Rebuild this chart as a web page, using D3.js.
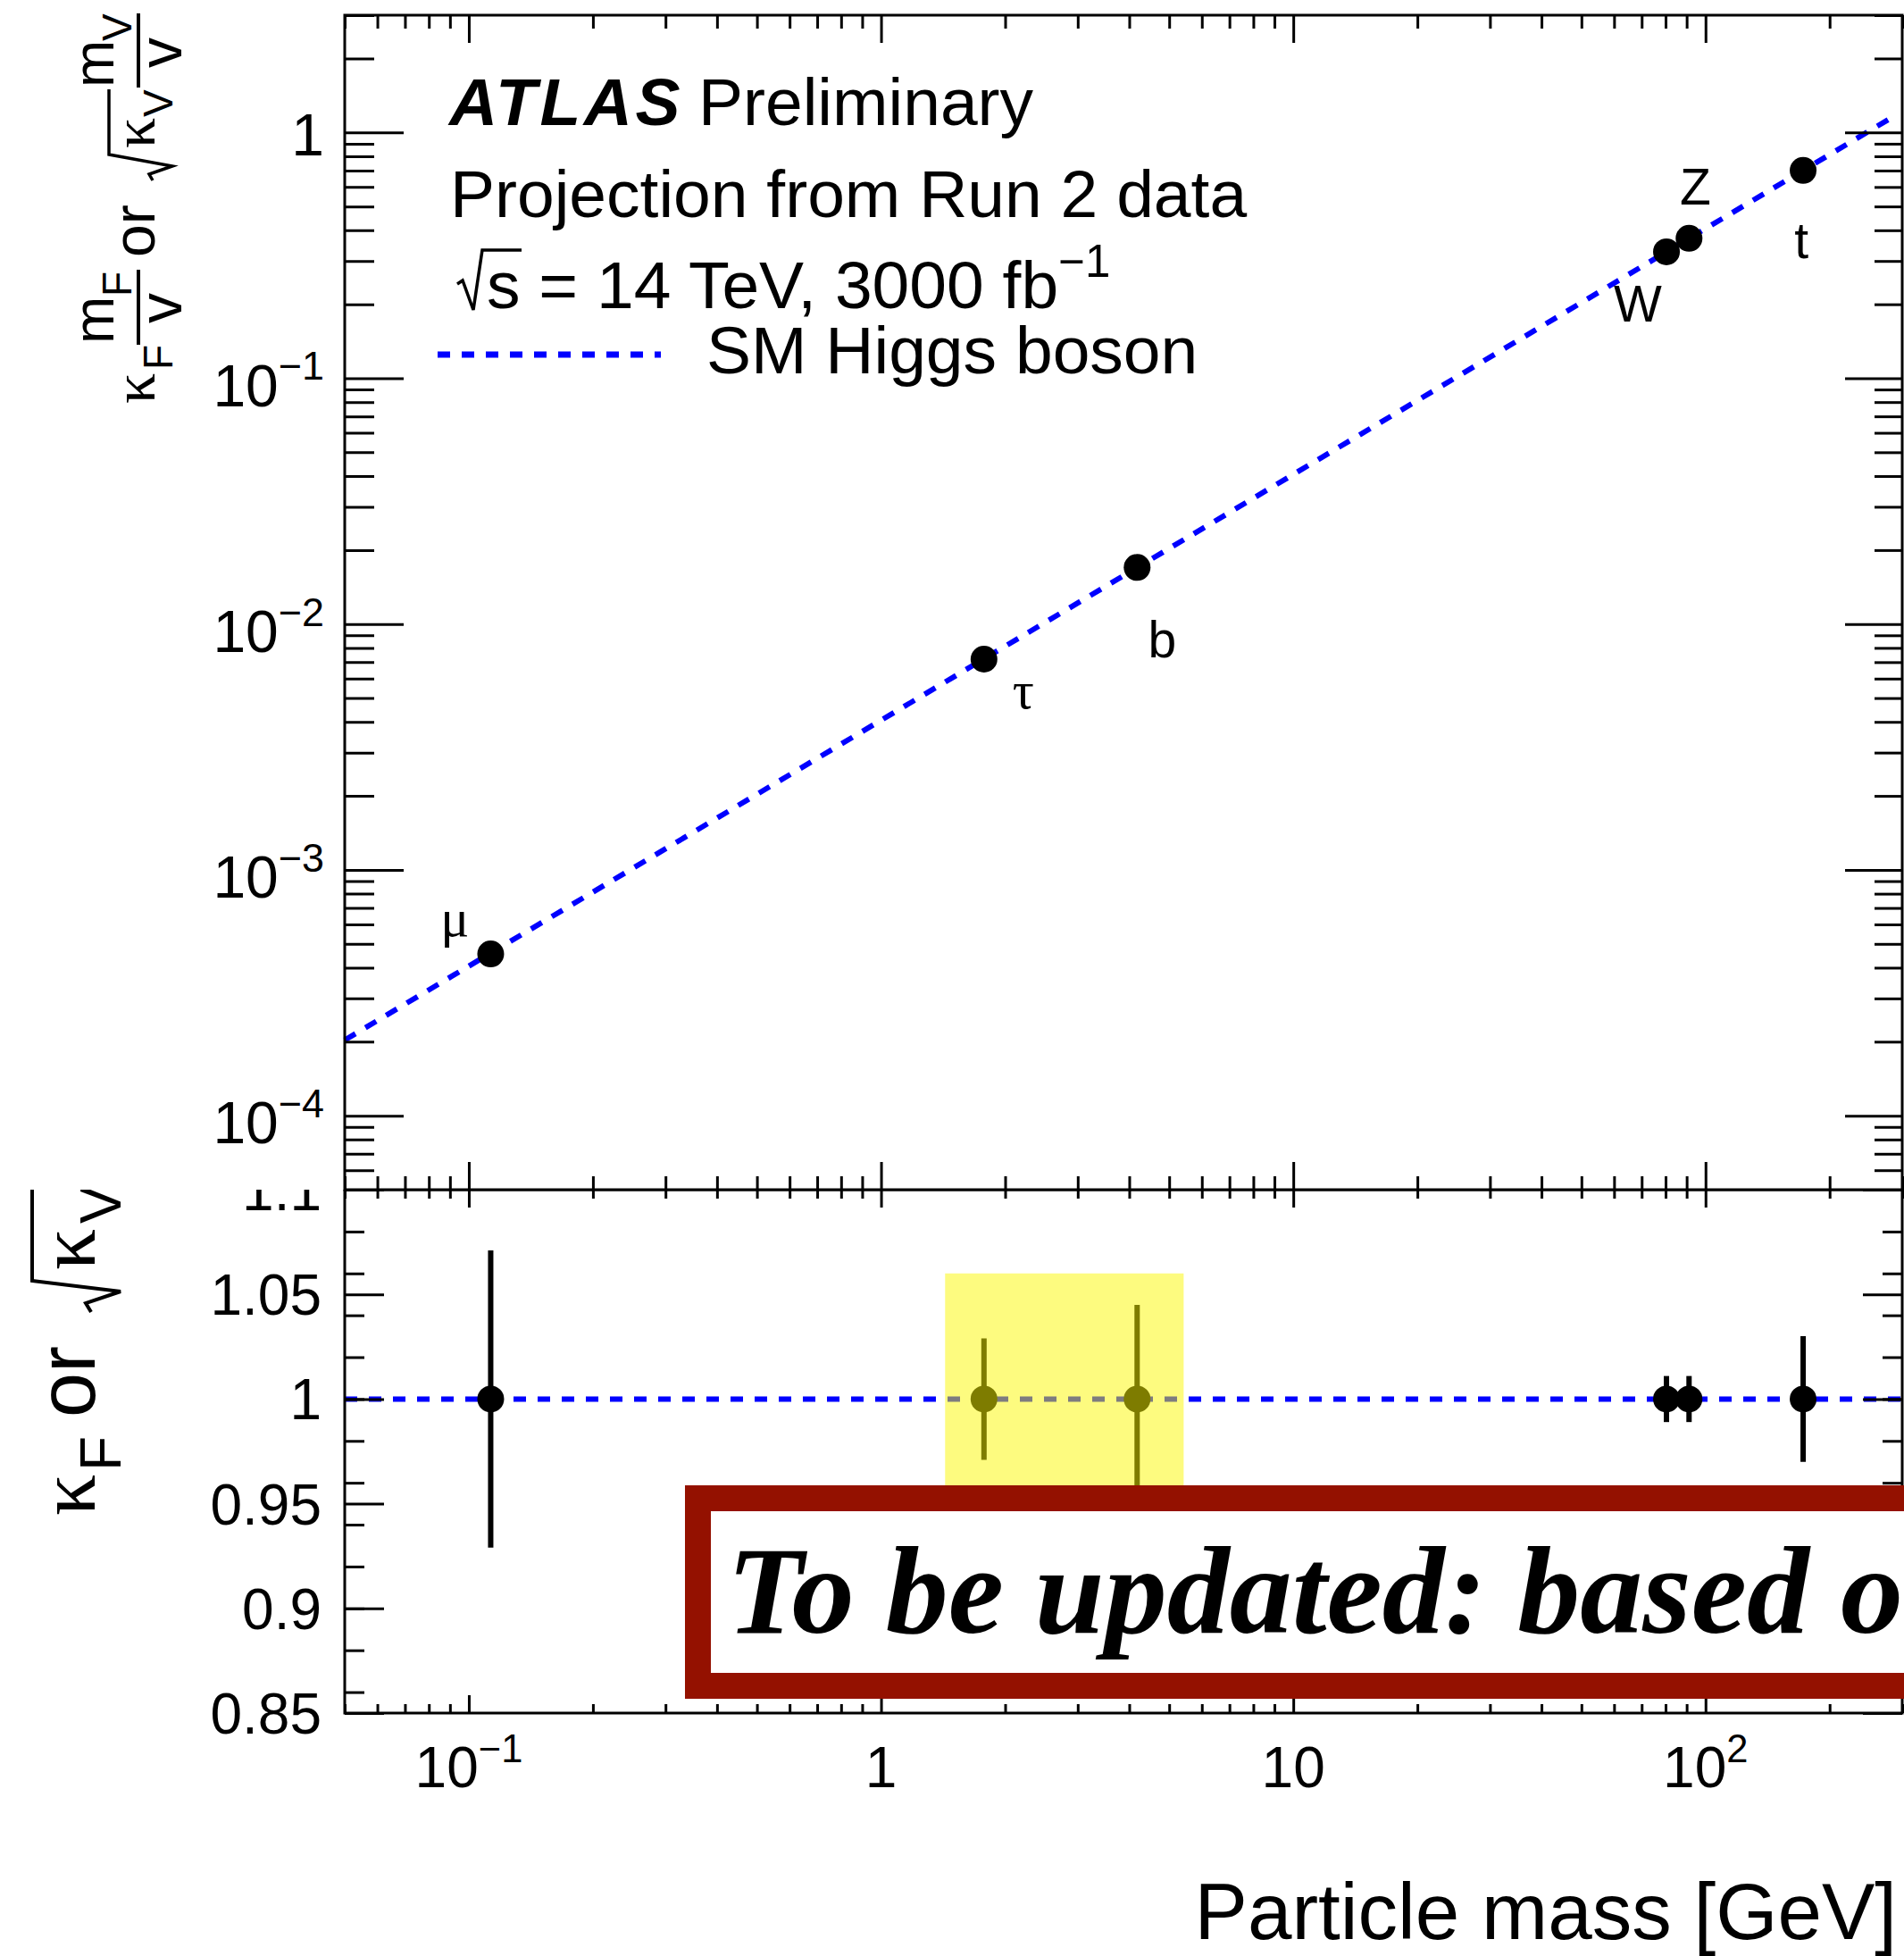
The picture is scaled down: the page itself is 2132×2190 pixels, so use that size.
<!DOCTYPE html>
<html>
<head>
<meta charset="utf-8">
<script src="https://cdn.jsdelivr.net/npm/d3@7"></script>
<style>
  html, body { margin: 0; padding: 0; background: #fff; }
  svg { display: block; }
  text { font-family: "Liberation Sans", Arial, Helvetica, sans-serif; fill: #000; }
</style>
</head>
<body>
<svg id="chart" width="2132" height="2190"></svg>
<script>
// ---- data -------------------------------------------------------------
const particles = ["μ", "τ", "b", "W", "Z", "t"];
const greekParticle = [true, true, false, false, false, false];
const masses = [0.113, 1.777, 4.18, 80.4, 91.2, 172.5];              // GeV
const reducedCouplings = [4.55e-4, 7.2e-3, 0.0170, 0.327, 0.371, 0.701];
const kappaValues = [1, 1, 1, 1, 1, 1];
const kappaErrors = [0.071, 0.029, 0.045, 0.011, 0.011, 0.030];

// SM expectation line (m / v)
const smMass = [0.05, 280];
const smCoupling = [2.03e-4, 1.138];
const smRatioMass = [0.05, 300];
const smRatio = [1, 1];

// highlighted mass window in the ratio panel
const highlightMass = [1.43, 5.42];
const highlightRatio = [0.9, 1.06];

// axis ticks
const xTicks = [0.1, 1, 10, 100];
const xTickLabels = [["10", "−1"], ["1", ""], ["10", ""], ["10", "2"]];
const topYTicks = [1e-4, 1e-3, 1e-2, 1e-1, 1];
const topYTickLabels = [["10", "−4"], ["10", "−3"], ["10", "−2"], ["10", "−1"], ["1", ""]];
const bottomYTicks = [0.85, 0.9, 0.95, 1, 1.05, 1.1];
const bottomYTickLabels = ["0.85", "0.9", "0.95", "1", "1.05", "1.1"];

// ---- layout -------------------------------------------------------------
const W = 2132, H = 2190;
const L = 386, R = 2130, T = 17, SPLIT = 1332, B = 1918;
const SERIF = '"Liberation Serif", "Times New Roman", serif';
const BLUE = "#0000ff";
const DASH = "14,13";

// particle label offsets from their markers
const labelDx = [-40, 44, 28, -32, 7, -2];
const labelDy = [-20, 55, 101, 78, -38, 98];

const svg = d3.select("#chart");

const x = d3.scaleLog().domain([0.05, 300]).range([L, R]);
const yTop = d3.scaleLog().domain([5e-5, 3]).range([SPLIT, T]);
const yBot = d3.scaleLinear().domain([0.85, 1.1]).range([B, SPLIT]);

function logMinors(domain) {
  const out = [];
  const k0 = Math.floor(Math.log10(domain[0])), k1 = Math.ceil(Math.log10(domain[1]));
  for (let k = k0; k <= k1; k++) {
    for (let m = 2; m <= 9; m++) {
      const v = m * Math.pow(10, k);
      if (v >= domain[0] * 0.999 && v <= domain[1] * 1.001) out.push(v);
    }
  }
  return out;
}

function drawTicks(parent, axisFactory, scale, values, size, tx, ty) {
  const g = parent.append("g")
    .attr("transform", `translate(${tx},${ty})`)
    .call(axisFactory(scale).tickValues(values).tickSize(size).tickSizeOuter(0).tickFormat(() => ""));
  g.select(".domain").remove();
  g.selectAll(".tick text").remove();
  g.selectAll(".tick line").attr("stroke", "#000").attr("stroke-width", 3);
  return g;
}

function sciLabel(parent, px, py, base, exp, size, anchor) {
  const t = parent.append("text")
    .attr("x", px).attr("y", py)
    .attr("font-size", size)
    .attr("text-anchor", anchor);
  t.append("tspan").text(base);
  if (exp) t.append("tspan").attr("font-size", size * 0.68).attr("dy", -0.44 * size).text(exp);
  return t;
}

const xMinor = logMinors(x.domain());
const yTopMinor = logMinors(yTop.domain());
const yBotMinor = d3.ticks(0.85, 1.1, 10);

// ======================= ratio panel =====================================
const ratioPanel = svg.append("g");

ratioPanel.append("path")
  .datum(smRatioMass.map((m, i) => [m, smRatio[i]]))
  .attr("d", d3.line().x(d => x(d[0])).y(d => yBot(d[1])))
  .attr("fill", "none").attr("stroke", BLUE).attr("stroke-width", 6)
  .attr("stroke-dasharray", DASH);

// error bars and markers
ratioPanel.selectAll("line.err").data(masses).join("line")
  .attr("class", "err")
  .attr("x1", d => x(d)).attr("x2", d => x(d))
  .attr("y1", (d, i) => yBot(kappaValues[i] + kappaErrors[i]))
  .attr("y2", (d, i) => yBot(kappaValues[i] - kappaErrors[i]))
  .attr("stroke", "#000").attr("stroke-width", 6);
ratioPanel.selectAll("circle").data(masses).join("circle")
  .attr("cx", d => x(d)).attr("cy", (d, i) => yBot(kappaValues[i]))
  .attr("r", 15).attr("fill", "#000");

// frame and ticks
ratioPanel.append("rect").attr("x", L).attr("y", SPLIT).attr("width", R - L).attr("height", B - SPLIT)
  .attr("fill", "none").attr("stroke", "#000").attr("stroke-width", 3);
drawTicks(ratioPanel, d3.axisTop, x, xMinor, -10, 0, SPLIT);
drawTicks(ratioPanel, d3.axisTop, x, xTicks, -20, 0, SPLIT);
drawTicks(ratioPanel, d3.axisBottom, x, xMinor, -10, 0, B);
drawTicks(ratioPanel, d3.axisBottom, x, xTicks, -20, 0, B);
drawTicks(ratioPanel, d3.axisLeft, yBot, yBotMinor, -22, L, 0);
drawTicks(ratioPanel, d3.axisLeft, yBot, bottomYTicks, -44, L, 0);
drawTicks(ratioPanel, d3.axisRight, yBot, yBotMinor, -22, R, 0);
drawTicks(ratioPanel, d3.axisRight, yBot, bottomYTicks, -44, R, 0);

bottomYTicks.forEach((v, i) => {
  ratioPanel.append("text").attr("x", 360).attr("y", yBot(v) + 23)
    .attr("font-size", 64).attr("text-anchor", "end").text(bottomYTickLabels[i]);
});
xTicks.forEach((v, i) => {
  sciLabel(ratioPanel, x(v), 2001, xTickLabels[i][0], xTickLabels[i][1], 64, "middle");
});

ratioPanel.append("text").attr("x", 2124).attr("y", 2171).attr("font-size", 89)
  .attr("text-anchor", "end").text("Particle mass [GeV]");

// ratio-panel y title: κ_F or √κ_V
const bt = ratioPanel.append("g").attr("transform", "translate(106,1697) rotate(-90)");
bt.append("text").attr("x", 0).attr("y", 0).attr("font-size", 92).style("font-family", SERIF).text("κ");
bt.append("text").attr("x", 50).attr("y", 29).attr("font-size", 64).text("F");
bt.append("text").attr("x", 110).attr("y", 0).attr("font-size", 90).text("or");
bt.append("path").attr("d", "M228,-4 L238,-10 L251,29 L263,-70 L372,-70")
  .attr("fill", "none").attr("stroke", "#000").attr("stroke-width", 4);
bt.append("text").attr("x", 275).attr("y", 0).attr("font-size", 92).style("font-family", SERIF).text("κ");
bt.append("text").attr("x", 327).attr("y", 29).attr("font-size", 64).text("V");

// ======================= main panel ======================================
const mainPanel = svg.append("g");
mainPanel.append("rect").attr("x", 0).attr("y", 0).attr("width", W).attr("height", SPLIT).attr("fill", "#fff");

mainPanel.append("path")
  .datum(smMass.map((m, i) => [m, smCoupling[i]]))
  .attr("d", d3.line().x(d => x(d[0])).y(d => yTop(d[1])))
  .attr("fill", "none").attr("stroke", BLUE).attr("stroke-width", 6)
  .attr("stroke-dasharray", DASH);

mainPanel.selectAll("circle").data(masses).join("circle")
  .attr("cx", d => x(d)).attr("cy", (d, i) => yTop(reducedCouplings[i]))
  .attr("r", 15).attr("fill", "#000");

mainPanel.selectAll("text.plabel").data(particles).join("text")
  .attr("class", "plabel")
  .attr("x", (d, i) => x(masses[i]) + labelDx[i])
  .attr("y", (d, i) => yTop(reducedCouplings[i]) + labelDy[i])
  .attr("font-size", (d, i) => greekParticle[i] ? 60 : 57).attr("text-anchor", "middle")
  .style("font-family", (d, i) => greekParticle[i] ? SERIF : null)
  .text(d => d);

mainPanel.append("rect").attr("x", L).attr("y", T).attr("width", R - L).attr("height", SPLIT - T)
  .attr("fill", "none").attr("stroke", "#000").attr("stroke-width", 3);
drawTicks(mainPanel, d3.axisTop, x, xMinor, -15, 0, T);
drawTicks(mainPanel, d3.axisTop, x, xTicks, -31, 0, T);
drawTicks(mainPanel, d3.axisBottom, x, xMinor, -15, 0, SPLIT);
drawTicks(mainPanel, d3.axisBottom, x, xTicks, -31, 0, SPLIT);
drawTicks(mainPanel, d3.axisLeft, yTop, yTopMinor, -33, L, 0);
drawTicks(mainPanel, d3.axisLeft, yTop, topYTicks, -66, L, 0);
drawTicks(mainPanel, d3.axisRight, yTop, yTopMinor, -31, R, 0);
drawTicks(mainPanel, d3.axisRight, yTop, topYTicks, -64, R, 0);

topYTicks.forEach((v, i) => {
  const lab = topYTickLabels[i];
  sciLabel(mainPanel, 363, yTop(v) + (lab[1] ? 31 : 26), lab[0], lab[1], 66, "end");
});

// main-panel y title: κ_F m_F/v or √κ_V m_V/v
const tt = mainPanel.append("g").attr("transform", "translate(173,452) rotate(-90)");
tt.append("text").attr("x", 0).attr("y", 0).attr("font-size", 68).style("font-family", SERIF).text("κ");
tt.append("text").attr("x", 38).attr("y", 20).attr("font-size", 46).text("F");
tt.append("line").attr("x1", 66).attr("x2", 150).attr("y1", -18).attr("y2", -18)
  .attr("stroke", "#000").attr("stroke-width", 4);
tt.append("text").attr("x", 67).attr("y", -46).attr("font-size", 64).text("m");
tt.append("text").attr("x", 120).attr("y", -26).attr("font-size", 46).text("F");
tt.append("text").attr("x", 107).attr("y", 30).attr("font-size", 68).attr("text-anchor", "middle").text("v");
tt.append("text").attr("x", 164).attr("y", 0).attr("font-size", 66).text("or");
tt.append("path").attr("d", "M250,-2 L257,-6 L266,20 L279,-51 L352,-51")
  .attr("fill", "none").attr("stroke", "#000").attr("stroke-width", 3.5);
tt.append("text").attr("x", 286).attr("y", 0).attr("font-size", 68).style("font-family", SERIF).text("κ");
tt.append("text").attr("x", 321).attr("y", 20).attr("font-size", 46).text("V");
tt.append("line").attr("x1", 354).attr("x2", 437).attr("y1", -18).attr("y2", -18)
  .attr("stroke", "#000").attr("stroke-width", 4);
tt.append("text").attr("x", 354).attr("y", -46).attr("font-size", 64).text("m");
tt.append("text").attr("x", 406).attr("y", -26).attr("font-size", 46).text("V");
tt.append("text").attr("x", 393).attr("y", 30).attr("font-size", 68).attr("text-anchor", "middle").text("v");

// ATLAS label and legend
const lg = mainPanel.append("g");
lg.append("text").attr("x", 503).attr("y", 140).attr("font-size", 75)
  .attr("font-weight", "bold").attr("font-style", "italic").attr("letter-spacing", 3.5).text("ATLAS");
lg.append("text").attr("x", 782).attr("y", 140).attr("font-size", 75).text("Preliminary");
lg.append("text").attr("x", 504).attr("y", 243).attr("font-size", 75).text("Projection from Run 2 data");
lg.append("path").attr("d", "M512,318 L518,314 L530,347 L540,280 L584,280")
  .attr("fill", "none").attr("stroke", "#000").attr("stroke-width", 3.5);
const en = lg.append("text").attr("x", 545).attr("y", 345).attr("font-size", 75);
en.append("tspan").text("s = 14 TeV, 3000 fb");
en.append("tspan").attr("font-size", 51).attr("dy", -35).text("−1");
lg.append("line").attr("x1", 490).attr("x2", 740).attr("y1", 397).attr("y2", 397)
  .attr("stroke", BLUE).attr("stroke-width", 7).attr("stroke-dasharray", DASH);
lg.append("text").attr("x", 791).attr("y", 418).attr("font-size", 75).text("SM Higgs boson");

// ======================= annotations =====================================
svg.append("rect")
  .attr("x", x(highlightMass[0])).attr("y", yBot(highlightRatio[1]))
  .attr("width", x(highlightMass[1]) - x(highlightMass[0]))
  .attr("height", yBot(highlightRatio[0]) - yBot(highlightRatio[1]))
  .attr("fill", "rgb(252,248,0)").attr("opacity", 0.5);

const note = svg.append("g");
note.append("rect").attr("x", 767).attr("y", 1663).attr("width", 1500).attr("height", 239).attr("fill", "#941100");
note.append("rect").attr("x", 796).attr("y", 1692).attr("width", 1500).attr("height", 181).attr("fill", "#fff");
note.append("text").attr("x", 814).attr("y", 1828).attr("font-size", 140)
  .style("font-family", SERIF).attr("font-weight", "bold").attr("font-style", "italic")
  .text("To be updated: based on");
</script>
</body>
</html>
